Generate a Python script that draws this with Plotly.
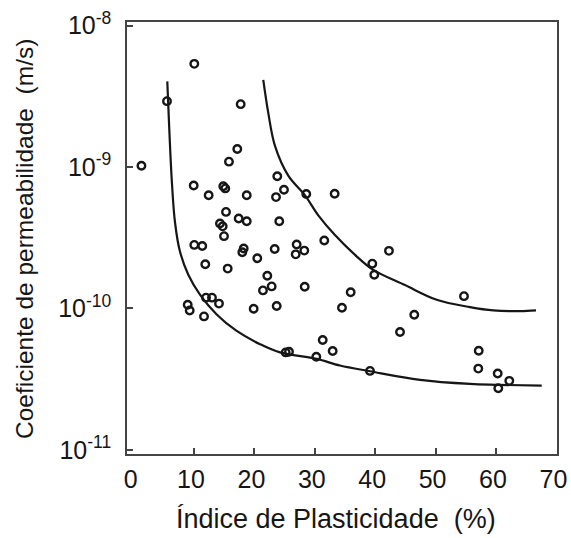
import plotly.graph_objects as go

# Scatter data: plasticity index (%) and permeability coefficient (m/s)
ip = [10.05, 5.53, 17.73, 17.17, 15.79, 1.3, 23.79, 9.95, 14.85, 15.18,
      24.9, 12.43, 18.73, 23.58, 28.59, 33.29, 15.30, 17.40, 18.73, 24.12,
      14.30, 14.75, 14.97, 31.57, 10.05, 11.37, 18.23, 18.0, 23.36, 27.0,
      26.84, 28.26, 20.48, 11.87, 15.58, 22.14, 21.42, 22.86, 28.33, 11.99,
      12.98, 14.14, 8.96, 9.29, 11.66, 19.88, 23.69, 34.5, 31.31, 32.96,
      25.18, 25.73, 30.25, 42.28, 39.52, 39.85, 35.94, 46.47, 44.11, 54.7,
      39.14, 57.14, 57.07, 60.28, 62.2, 60.38]
k = [5.36e-9, 2.92e-9, 2.78e-9, 1.34e-9, 1.09e-9, 1.02e-9, 8.59e-10, 7.40e-10, 7.31e-10, 7.05e-10,
     6.89e-10, 6.30e-10, 6.30e-10, 6.12e-10, 6.43e-10, 6.46e-10, 4.81e-10, 4.32e-10, 4.13e-10, 4.13e-10,
     3.98e-10, 3.80e-10, 3.24e-10, 3.02e-10, 2.81e-10, 2.76e-10, 2.65e-10, 2.49e-10, 2.63e-10, 2.83e-10,
     2.41e-10, 2.56e-10, 2.26e-10, 2.05e-10, 1.91e-10, 1.70e-10, 1.34e-10, 1.43e-10, 1.42e-10, 1.19e-10,
     1.19e-10, 1.08e-10, 1.06e-10, 9.66e-11, 8.77e-11, 9.93e-11, 1.04e-10, 1.01e-10, 5.98e-11, 4.99e-11,
     4.88e-11, 4.93e-11, 4.55e-11, 2.55e-10, 2.07e-10, 1.73e-10, 1.30e-10, 9.00e-11, 6.81e-11, 1.22e-10,
     3.61e-11, 5.01e-11, 3.75e-11, 3.46e-11, 3.07e-11, 2.72e-11]

# Envelope curves
lower_x = [5.58, 5.91, 6.31, 6.85, 7.68, 9.06, 10.99, 13.76, 17.07, 20.93,
           24.24, 30.31, 34.17, 39.14, 47.42, 55.7, 60.12, 67.57]
lower_k = [4.03e-9, 1.85e-9, 8.22e-10, 4.08e-10, 2.52e-10, 1.73e-10, 1.25e-10, 9.06e-11, 6.92e-11, 5.58e-11,
           4.88e-11, 4.39e-11, 3.94e-11, 3.59e-11, 3.12e-11, 2.92e-11, 2.88e-11, 2.84e-11]
upper_x = [21.47, 22.30, 23.41, 25.61, 28.38, 30.58, 33.34, 36.66, 39.69, 44.93,
           50.18, 55.7, 59.55, 63.97, 66.62]
upper_k = [4.13e-9, 2.41e-9, 1.41e-9, 8.69e-10, 6.30e-10, 4.55e-10, 3.30e-10, 2.39e-10, 1.87e-10, 1.46e-10,
           1.15e-10, 1.02e-10, 9.66e-11, 9.55e-11, 9.66e-11]

x_ticks = [0, 10, 20, 30, 40, 50, 60, 70]
x_minor_ticks = [10, 20, 30, 40, 50, 60]
y_ticks = [1e-11, 1e-10, 1e-9, 1e-8]
y_ticktext = ["10<sup>-11</sup>", "10<sup>-10</sup>", "10<sup>-9</sup>", "10<sup>-8</sup>"]
x_title = "Índice de Plasticidade  (%)"
y_title = "Coeficiente de permeabilidade  (m/s)"

INK = "#161616"
FONT = "Liberation Sans, Arial, sans-serif"

fig = go.Figure()
for cx, cy in ((lower_x, lower_k), (upper_x, upper_k)):
    fig.add_trace(go.Scatter(x=cx, y=cy, mode="lines",
                             line=dict(color=INK, width=2.2, shape="spline", smoothing=1.0),
                             showlegend=False, hoverinfo="skip"))
fig.add_trace(go.Scatter(x=ip, y=k, mode="markers",
                         marker=dict(symbol="circle-open", size=7.5, color=INK,
                                     line=dict(width=2.4, color=INK)),
                         showlegend=False))

fig.update_layout(
    width=571, height=538,
    margin=dict(l=127, r=14, t=22, b=84),
    paper_bgcolor="white", plot_bgcolor="white",
    font=dict(family=FONT, color=INK),
    xaxis=dict(
        range=[-1.09, 70.1], tickvals=x_ticks, ticks="",
        tickfont=dict(size=25, family=FONT, color=INK),
        showgrid=False, zeroline=False, automargin=False,
        showline=True, mirror=True, linecolor="#444", linewidth=1.5,
        ticklabelstandoff=2, ticklabelshift=-3, ticklabeloverflow="allow",
        minor=dict(tickvals=x_minor_ticks, ticks="inside", ticklen=6,
                   tickcolor="#444", tickwidth=1.5, showgrid=False),
    ),
    yaxis=dict(
        type="log", range=[-11.03, -7.975],
        tickvals=y_ticks, ticktext=y_ticktext, ticks="inside", ticklen=6,
        tickcolor="#444", tickwidth=1.5,
        tickfont=dict(size=25, family=FONT, color=INK),
        showgrid=False, zeroline=False, automargin=False,
        showline=True, mirror=True, linecolor="#444", linewidth=1.5,
        ticklabelstandoff=9, ticklabeloverflow="allow",
    ),
    annotations=[
        dict(text=x_title, xref="paper", yref="paper", x=(336 - 127) / 430, y=(454 - 519) / 432,
             xanchor="center", yanchor="middle", showarrow=False,
             font=dict(size=27, family=FONT, color=INK)),
        dict(text=y_title, xref="paper", yref="paper", x=(24 - 127) / 430, y=(454 - 239) / 432,
             xanchor="center", yanchor="middle", showarrow=False, textangle=-90,
             font=dict(size=24.5, family=FONT, color=INK)),
    ],
)

fig.write_html("out.html")
